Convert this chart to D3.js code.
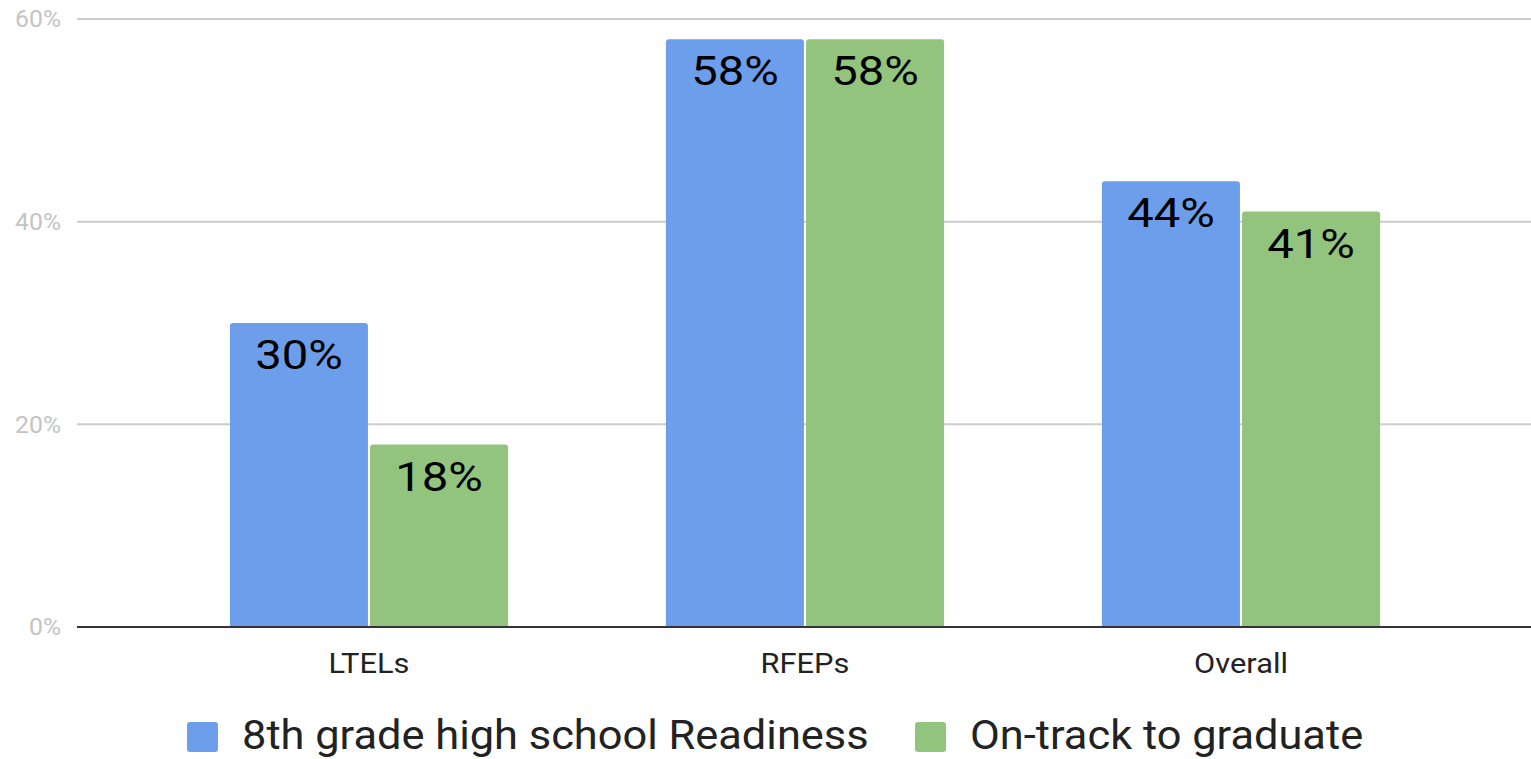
<!DOCTYPE html>
<html><head><meta charset="utf-8">
<script src="https://cdn.jsdelivr.net/npm/d3@7"></script>
<style>body{margin:0;background:#fff;font-family:Roboto,sans-serif}</style>
</head><body>
<svg id="c" width="1531" height="759"></svg>
<script>
const categories = ["LTELs", "RFEPs", "Overall"];
const seriesNames = ["8th grade high school Readiness", "On-track to graduate"];
const readiness = [30, 58, 44];
const onTrack = [18, 58, 41];
const yTicks = [0, 20, 40, 60];
const colors = ["#6d9eeb", "#93c47d"];

const svg = d3.select("#c");
const x0 = 77, x1 = 1531, yTop = 19, yBot = 627;
const y = d3.scaleLinear().domain([0, 60]).range([yBot, yTop]);
const x = d3.scaleBand().domain(categories).range([151, 1459]).paddingInner(0.362).paddingOuter(0.181);
const xs = d3.scaleBand().domain([0, 1]).range([0, x.bandwidth()]).paddingInner(0.015);

function stext(sel, tx, ty, sx) {
  return sel.append("text").attr("transform", `translate(${tx},${ty}) scale(${sx},1)`);
}

// gridlines
svg.append("g").selectAll("line").data(yTicks.filter(d => d > 0)).join("line")
  .attr("x1", x0).attr("x2", x1).attr("y1", d => y(d)).attr("y2", d => y(d))
  .attr("stroke", "#cccccc").attr("stroke-width", 2);

// y labels
const yl = svg.append("g");
yTicks.forEach(d => {
  stext(yl, 61, y(d), 1.03).attr("dy", "0.35em")
    .attr("text-anchor", "end").attr("font-size", 24).attr("fill", "#c4c4c4")
    .text(d + "%");
});

const rows = categories.map((c, i) => [readiness[i], onTrack[i]]);
function topRounded(xp, yp, w, h, r) {
  return `M${xp},${yp + h}V${yp + r}Q${xp},${yp} ${xp + r},${yp}H${xp + w - r}Q${xp + w},${yp} ${xp + w},${yp + r}V${yp + h}Z`;
}
const g = svg.append("g");
categories.forEach((c, i) => {
  rows[i].forEach((v, s) => {
    const bx = x(c) + xs(s), bw = xs.bandwidth();
    g.append("path").attr("d", topRounded(bx, y(v), bw, yBot - y(v), 3)).attr("fill", colors[s]);
    stext(g, bx + bw / 2, y(v) + 46, 1.18)
      .attr("text-anchor", "middle").attr("font-size", 40).attr("fill", "#000")
      .text(v + "%");
  });
});

// baseline
svg.append("line").attr("x1", x0).attr("x2", x1).attr("y1", yBot).attr("y2", yBot)
  .attr("stroke", "#333").attr("stroke-width", 2);

// x labels
const xl = svg.append("g");
categories.forEach(d => {
  stext(xl, x(d) + x.bandwidth() / 2, 673, 1.1)
    .attr("text-anchor", "middle").attr("font-size", 28).attr("fill", "#222")
    .text(d);
});

// legend
const legX = [187, 915];
const lg = svg.append("g");
seriesNames.forEach((n, i) => {
  lg.append("rect").attr("x", legX[i]).attr("y", 722).attr("width", 31).attr("height", 30).attr("rx", 3).attr("fill", colors[i]);
  stext(lg, legX[i] + 55, 749, 1.085).attr("font-size", 40).attr("fill", "#222").text(n);
});
</script>
</body></html>
